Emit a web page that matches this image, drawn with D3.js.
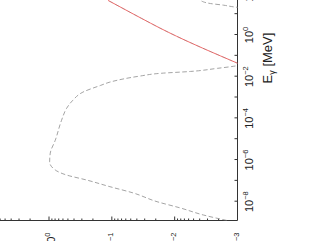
<!DOCTYPE html>
<html>
<head>
<meta charset="utf-8">
<script src="https://cdn.jsdelivr.net/npm/d3@7"></script>
<style>
  html, body { margin: 0; padding: 0; background: #fff; overflow: hidden; }
  svg { display: block; font-family: "Liberation Sans", Arial, sans-serif; }
</style>
</head>
<body>
<svg id="chart" width="316" height="241"></svg>
<script>
// values, as log10 of E [MeV] and log10 of the y value
const totalLogE = [-8.9, -8.64, -8.30, -8.0, -7.58, -7.28, -6.96, -6.72, -6.48, -6.09, -5.67, -5.05,
  -4.09, -3.52, -3.13, -2.74, -2.42, -2.26, -1.97, -1.84, -1.75, -1.60, -1.50, -1.44]
const totalLogY = [-2.83, -2.46, -2.09, -1.72, -1.34, -0.97, -0.60, -0.28, -0.10, -0.01, -0.02, -0.10,
  -0.20, -0.28, -0.38, -0.54, -0.82, -0.97, -1.45, -1.77, -2.25, -2.68, -2.94, -3.05]
const tailLogE = [1.31, 1.35, 1.43, 1.51, 1.66]
const tailLogY = [-3.05, -2.94, -2.78, -2.57, -2.41]
const lineLogE = [-1.38, 0.13, 1.01, 1.66]
const lineLogY = [-3.02, -1.90, -1.34, -0.94]

const xTickExp = [-8, -7, -6, -5, -4, -3, -2, -1, 0, 1, 2]
const xLabelExp = [-8, -6, -4, -2, 0, 2]
const yTickExp = [-3, -2, -1, 0]

const toPoints = (le, ly) => le.map((e, i) => [Math.pow(10, e), Math.pow(10, ly[i])])
const supText = p => (p < 0 ? '\u2212' + (-p) : String(p))

// the chart is drawn upright in its own frame, then turned a quarter turn
const plotH = 237.5
const svg = d3.select('#chart')
const g = svg.append('g').attr('transform', 'translate(0,220.5) rotate(-90)')

const x = d3.scaleLog().domain([1e-8, 1]).range([18.8, 185.5])
const y = d3.scaleLog().domain([1e-3, 1]).range([plotH, 49])

g.append('clipPath').attr('id', 'plotclip')
  .append('rect').attr('x', 0).attr('y', -60).attr('width', 320).attr('height', plotH + 60)

// x axis (energy), ticks point inwards
const xAxis = g.append('g').attr('transform', `translate(0,${plotH})`)
  .call(d3.axisBottom(x).tickValues(xTickExp.map(p => Math.pow(10, p))).tickSize(-3).tickFormat(''))
xAxis.select('.domain').remove()
xAxis.selectAll('.tick line').attr('stroke', '#333')

xLabelExp.forEach(p => {
  const t = g.append('text')
    .attr('x', x(Math.pow(10, p))).attr('y', plotH + 15)
    .attr('text-anchor', 'middle').attr('font-size', 11).attr('fill', '#222')
  t.append('tspan').text('10')
  t.append('tspan').attr('font-size', 7.5).attr('dy', -4.5).text(supText(p))
})

// y axis, log ticks with minor ones
const yMinor = []
yTickExp.forEach(p => {
  for (let m = 1; m < 10; m++) {
    const v = m * Math.pow(10, p)
    if (v > 1e-3) yMinor.push({ v, major: m === 1 })
  }
})
g.append('g').selectAll('line').data(yMinor).join('line')
  .attr('x1', 0).attr('x2', d => (d.major ? 4 : 2))
  .attr('y1', d => y(d.v)).attr('y2', d => y(d.v))
  .attr('stroke', '#333')

yTickExp.forEach(p => {
  const t = g.append('text')
    .attr('x', -12).attr('y', y(Math.pow(10, p)) + 5.5)
    .attr('text-anchor', 'end').attr('font-size', 11).attr('fill', '#222')
  t.append('tspan').text('10')
  t.append('tspan').attr('font-size', 7.5).attr('dy', -4.5).text(supText(p))
})

// axis lines
g.append('line').attr('x1', 0).attr('x2', 320).attr('y1', plotH).attr('y2', plotH)
  .attr('stroke', '#333')
g.append('line').attr('x1', 0).attr('x2', 0).attr('y1', -60).attr('y2', plotH)
  .attr('stroke', '#333')

// axis title
const title = g.append('text')
  .attr('x', 162.5).attr('y', 272)
  .attr('text-anchor', 'middle').attr('font-size', 13).attr('fill', '#222')
title.append('tspan').text('E')
title.append('tspan').attr('font-size', 9).attr('dy', 3).text('\u03b3')
title.append('tspan').attr('dy', -3).text(' [MeV]')

// curves
const line = d3.line().x(d => x(d[0])).y(d => y(d[1])).curve(d3.curveMonotoneX)
const plot = g.append('g').attr('clip-path', 'url(#plotclip)')

plot.append('path').datum(toPoints(lineLogE, lineLogY))
  .attr('d', line).attr('fill', 'none').attr('stroke', '#f25a5a').attr('stroke-width', 0.9)
plot.append('path').datum(toPoints(lineLogE, lineLogY))
  .attr('d', line).attr('fill', 'none').attr('stroke', '#777').attr('stroke-width', 0.7)
  .attr('stroke-dasharray', '4,3').attr('opacity', 0.45)

plot.append('path').datum(toPoints(totalLogE, totalLogY))
  .attr('d', line).attr('fill', 'none').attr('stroke', '#9a9a9a').attr('stroke-width', 0.9)
  .attr('stroke-dasharray', '4.5,2.5')
plot.append('path').datum(toPoints(tailLogE, tailLogY))
  .attr('d', line).attr('fill', 'none').attr('stroke', '#9a9a9a').attr('stroke-width', 0.9)
  .attr('stroke-dasharray', '4.5,2.5')
</script>
</body>
</html>
